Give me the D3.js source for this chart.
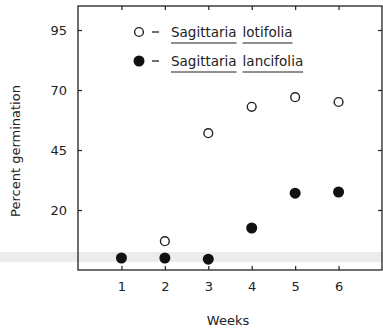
<!DOCTYPE html>
<html>
<head>
<script src="https://d3js.org/d3.v7.min.js"></script>
<style>
  body { margin: 0; background: #fff; }
  svg { display: block; }
  text { font-family: "DejaVu Sans", sans-serif; fill: #222; }
</style>
</head>
<body>
<svg id="chart" width="383" height="331"></svg>
<script>
// data
const weeks = [1, 2, 3, 4, 5, 6];
const lotifolia = [0, 7, 52, 63, 67, 65];
const lancifolia = [0, 0, -0.5, 12.5, 27, 27.5];
const yTicks = [20, 45, 70, 95];
const seriesNames = ['Sagittaria lotifolia', 'Sagittaria lancifolia'];

const svg = d3.select('#chart');
const margin = { top: 6, right: 1, bottom: 61, left: 78 };
const width = 383, height = 331;
const innerWidth = width - margin.left - margin.right;
const innerHeight = height - margin.top - margin.bottom;

// faint scan stripe across the page
svg.append('rect')
  .attr('x', 0).attr('y', 252).attr('width', width).attr('height', 10)
  .attr('fill', '#ececec');

const x = d3.scaleLinear().domain([0, 7]).range([0, innerWidth]);
const y = d3.scaleLinear().domain([-5, 105]).range([innerHeight, 0]);

const g = svg.append('g')
  .attr('transform', `translate(${margin.left},${margin.top})`);

// frame
g.append('rect')
  .attr('width', innerWidth).attr('height', innerHeight)
  .attr('fill', 'none').attr('stroke', '#222').attr('stroke-width', 1.3);

// axes with inward ticks
const xAxis = g.append('g').attr('transform', `translate(0,${innerHeight})`)
  .call(d3.axisBottom(x).tickValues(weeks).tickFormat(d3.format('d')).tickSize(-4).tickPadding(12));
const xTop = g.append('g')
  .call(d3.axisTop(x).tickValues(weeks).tickSize(-4).tickFormat(''));
const yAxis = g.append('g')
  .call(d3.axisLeft(y).tickValues(yTicks).tickFormat(d3.format('d')).tickSize(-4).tickPadding(11));
const yRight = g.append('g').attr('transform', `translate(${innerWidth},0)`)
  .call(d3.axisRight(y).tickValues(yTicks).tickSize(-4).tickFormat(''));

// the mirrored axes only need their tick marks
xTop.selectAll('text').remove();
yRight.selectAll('text').remove();

[xAxis, xTop, yAxis, yRight].forEach(a => {
  a.select('.domain').remove();
  a.selectAll('line').attr('stroke', '#222').attr('stroke-width', 1.2);
  a.selectAll('text').style('font-family', '"DejaVu Sans", sans-serif')
    .style('font-size', '13px').attr('fill', '#222');
});

// points
g.selectAll('.lanc').data(weeks).enter().append('circle')
  .attr('class', 'lanc')
  .attr('cx', d => x(d))
  .attr('cy', (d, i) => y(lancifolia[i]))
  .attr('r', 5.5).attr('fill', '#111');

g.selectAll('.loti').data(weeks.slice(1)).enter().append('circle')
  .attr('class', 'loti')
  .attr('cx', d => x(d))
  .attr('cy', d => y(lotifolia[weeks.indexOf(d)]))
  .attr('r', 4.4).attr('fill', '#fff').attr('stroke', '#222').attr('stroke-width', 1.4);

// legend
const legend = svg.append('g');
seriesNames.forEach((name, i) => {
  const ly = 32 + i * 29;
  const row = legend.append('g').attr('transform', `translate(139,${ly})`);
  row.append('circle').attr('r', i === 0 ? 4.4 : 5.5)
    .attr('fill', i === 0 ? '#fff' : '#111')
    .attr('stroke', i === 0 ? '#222' : 'none').attr('stroke-width', 1.4);
  row.append('line').attr('x1', 13).attr('x2', 20).attr('y1', 0).attr('y2', 0)
    .attr('stroke', '#222').attr('stroke-width', 1.3);
  const parts = name.split(' ');
  const t1 = row.append('text').attr('x', 32).attr('y', 5)
    .style('font-size', '13.5px').text(parts[0]);
  const w1 = t1.node().getComputedTextLength();
  const t2 = row.append('text').attr('x', 32 + w1 + 6).attr('y', 5)
    .style('font-size', '13.5px').text(parts[1]);
  const w2 = t2.node().getComputedTextLength();
  row.append('line').attr('x1', 32).attr('x2', 32 + w1).attr('y1', 11).attr('y2', 11)
    .attr('stroke', '#222').attr('stroke-width', 1.2);
  row.append('line').attr('x1', 32 + w1 + 6).attr('x2', 32 + w1 + 6 + w2).attr('y1', 11).attr('y2', 11)
    .attr('stroke', '#222').attr('stroke-width', 1.2);
});

// axis titles
svg.append('text')
  .attr('transform', 'translate(20,151) rotate(-90)')
  .attr('text-anchor', 'middle')
  .style('font-size', '13px')
  .text('Percent germination');
svg.append('text')
  .attr('x', 228).attr('y', 325)
  .attr('text-anchor', 'middle')
  .style('font-size', '13px')
  .text('Weeks');
</script>
</body>
</html>
